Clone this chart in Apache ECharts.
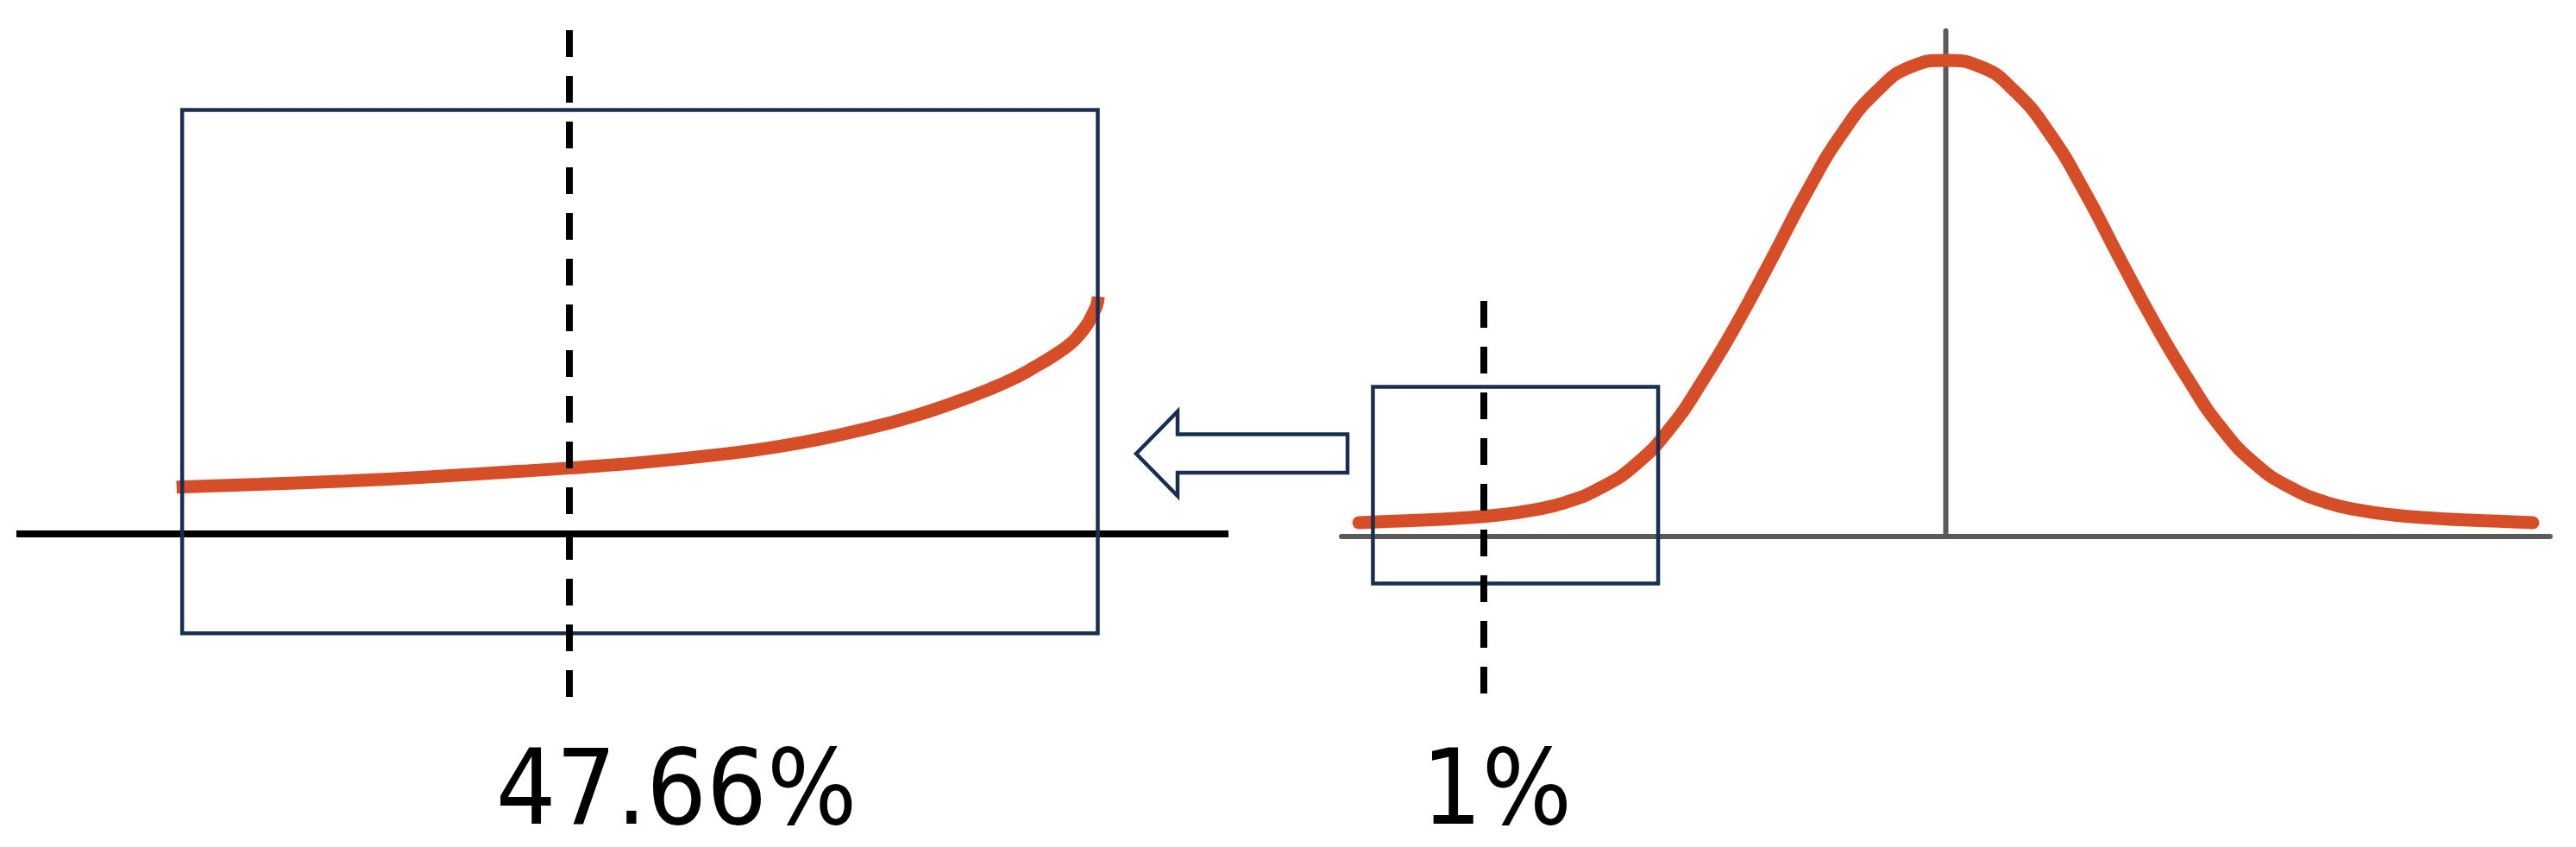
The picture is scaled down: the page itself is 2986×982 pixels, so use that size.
<!DOCTYPE html>
<html>
<head>
<meta charset="utf-8">
<script src="https://cdn.jsdelivr.net/npm/echarts@6/dist/echarts.min.js"></script>
<style>
  html, body { margin: 0; padding: 0; background: #fff; }
  #chart { width: 2986px; height: 982px; }
</style>
</head>
<body>
<div id="chart"></div>
<script>
// right panel: full curve, x in sigma units, y relative to peak
const normalX = [-3.4, -3.2, -3.0, -2.8, -2.6, -2.4, -2.2, -2.0, -1.8, -1.6, -1.4, -1.2, -1.0, -0.8, -0.6, -0.4, -0.2,
  0, 0.2, 0.4, 0.6, 0.8, 1.0, 1.2, 1.4, 1.6, 1.8, 2.0, 2.2, 2.4, 2.6, 2.8, 3.0, 3.2, 3.4];
const normalY = [0.029, 0.032, 0.035, 0.039, 0.045, 0.055, 0.072, 0.102, 0.150, 0.226, 0.332, 0.454, 0.589, 0.727,
  0.847, 0.935, 0.987, 1.0, 0.987, 0.935, 0.847, 0.727, 0.589, 0.454, 0.332, 0.226, 0.150, 0.102, 0.072, 0.055,
  0.045, 0.039, 0.035, 0.032, 0.029];

// left panel: magnified tail (same x units, y stretched)
const zoomX = [-3.327, -3.179, -3.024, -2.869, -2.714, -2.621, -2.481, -2.326, -2.249, -2.171, -2.094, -2.016,
  -1.939, -1.861, -1.814, -1.783, -1.752, -1.721, -1.703, -1.689, -1.680, -1.673, -1.670];
const zoomY = [0.0373, 0.0394, 0.0421, 0.0455, 0.0497, 0.0524, 0.0572, 0.0644, 0.0692, 0.0753, 0.0829, 0.0918,
  0.1027, 0.1158, 0.1253, 0.1329, 0.1411, 0.1507, 0.1589, 0.1671, 0.1747, 0.1815, 0.1884];

// boxes [xMin, xMax, yMin, yMax]
const normalBox = [-3.318, -1.666, -0.0987, 0.3143];
const zoomBox = [-3.317, -1.671, -0.0788, 0.3366];

// cut-off lines [x, yBottom, yTop]
const normalCut = [-2.678, -0.3297, 0.4946];
const zoomCut = [-2.621, -0.1295, 0.400];

const meanLine = [[0, 0], [0, 1.062]];
const labels = ['47.66%', '1%'];

const RED = '#D64E28';
const NAVY = '#1A2E52';
const GRAY = '#5A5A5A';

function zip(xs, ys) {
  return xs.map((x, i) => [x, ys[i]]);
}

function boxArea(b, z) {
  return {
    silent: true,
    z: z,
    itemStyle: { color: 'rgba(0,0,0,0)', borderColor: NAVY, borderWidth: 4.5 },
    label: { show: false },
    data: [[{ coord: [b[0], b[3]] }, { coord: [b[1], b[2]] }]]
  };
}

function cutLine(c) {
  return {
    silent: true,
    symbol: ['none', 'none'],
    label: { show: false },
    lineStyle: { color: '#000', width: 8, type: [31, 22], cap: 'butt' },
    z: 6,
    data: [[{ coord: [c[0], c[2]] }, { coord: [c[0], c[1]] }]]
  };
}

const chart = echarts.init(document.getElementById('chart'));
chart.setOption({
  animation: false,
  backgroundColor: '#fff',
  grid: [
    { left: 19, width: 1405, top: 35, height: 774 },
    { left: 1555, width: 1401, top: 31.4, height: 778.3 }
  ],
  xAxis: [
    {
      gridIndex: 0, type: 'value', min: -3.615, max: -1.436,
      axisLine: { onZero: true, lineStyle: { color: '#000', width: 8, cap: 'butt' } },
      axisTick: { show: false }, axisLabel: { show: false }, splitLine: { show: false }
    },
    {
      gridIndex: 1, type: 'value', min: -3.5, max: 3.5,
      axisLine: { onZero: true, lineStyle: { color: GRAY, width: 6, cap: 'round' } },
      axisTick: { show: false }, axisLabel: { show: false }, splitLine: { show: false }
    }
  ],
  yAxis: [
    { gridIndex: 0, type: 'value', min: -0.13, max: 0.40, show: false },
    { gridIndex: 1, type: 'value', min: -0.34, max: 1.07, show: false }
  ],
  series: [
    {
      name: 'zoom',
      type: 'line',
      xAxisIndex: 0, yAxisIndex: 0,
      data: zip(zoomX, zoomY),
      showSymbol: false,
      smooth: 0.5,
      z: 3,
      lineStyle: { color: RED, width: 15, cap: 'butt' },
      markArea: boxArea(zoomBox, 4),
      markLine: cutLine(zoomCut)
    },
    {
      name: 'mean',
      type: 'line',
      xAxisIndex: 1, yAxisIndex: 1,
      data: meanLine,
      showSymbol: false,
      silent: true,
      z: 1,
      lineStyle: { color: GRAY, width: 6, cap: 'round' }
    },
    {
      name: 'normal',
      type: 'line',
      xAxisIndex: 1, yAxisIndex: 1,
      data: zip(normalX, normalY),
      showSymbol: false,
      smooth: 0.5,
      z: 3,
      lineStyle: { color: RED, width: 15, cap: 'round' },
      markArea: boxArea(normalBox, 4),
      markLine: cutLine(normalCut)
    }
  ],
  graphic: [
    {
      type: 'polygon',
      shape: { points: [[1317, 526], [1365, 477], [1365, 503.5], [1562, 503.5], [1562, 548], [1365, 548], [1365, 575]] },
      style: { fill: '#fff', stroke: NAVY, lineWidth: 4.5 }
    },
    {
      type: 'text', x: 784, y: 923,
      style: {
        text: labels[0], font: '122px "DejaVu Sans Condensed", "DejaVu Sans"', fill: '#000',
        align: 'center', verticalAlign: 'middle', textAlign: 'center', textVerticalAlign: 'middle'
      }
    },
    {
      type: 'text', x: 1735, y: 923,
      style: {
        text: labels[1], font: '122px "DejaVu Sans Condensed", "DejaVu Sans"', fill: '#000',
        align: 'center', verticalAlign: 'middle', textAlign: 'center', textVerticalAlign: 'middle'
      }
    }
  ]
});
</script>
</body>
</html>
